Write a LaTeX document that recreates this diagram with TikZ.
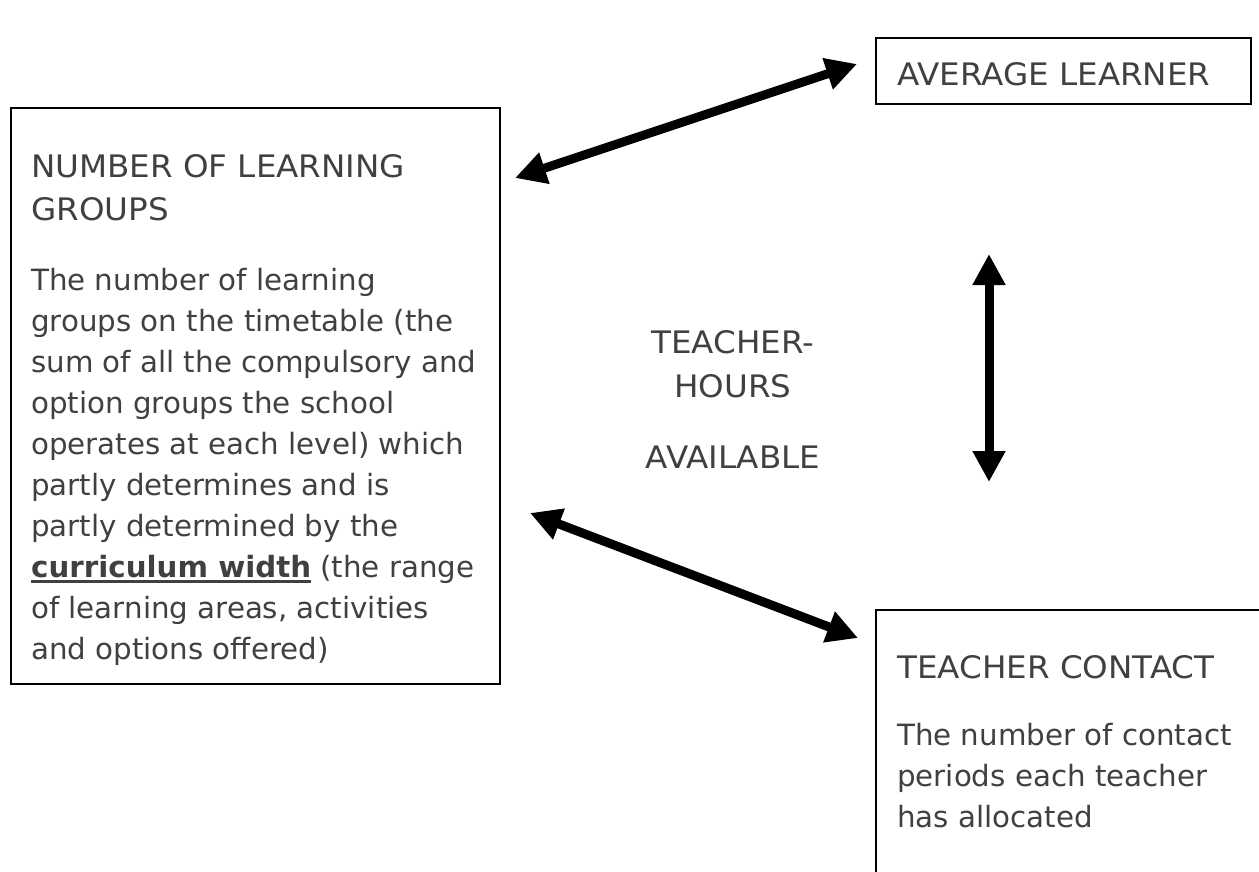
\documentclass[tikz,border=0pt]{standalone}
\usepackage{fontspec}
\setmainfont{DejaVu Sans}
\newfontfamily\capsfont{DejaVu Sans}[FakeStretch=1.05]
\usetikzlibrary{arrows.meta,positioning,calc}
\definecolor{ink}{RGB}{64,64,64}
% fixes the height of a first line, so text can be placed by its baseline
\newcommand{\firstline}{\rule{0pt}{30pt}}
% capital headings are set a little larger and wider
\newcommand{\hd}[1]{{\capsfont\fontsize{31}{41}\selectfont #1}}
% bold words with a heavy rule under them
\newcommand{\thickul}[1]{\setbox0\hbox{#1}\rlap{\rule[-6pt]{\wd0}{3.5pt}}\box0\relax}

\begin{document}
\begin{tikzpicture}[x=1pt, y=-1pt,
    every node/.style={text=ink, font=\fontsize{29.3}{41}\selectfont},
    box/.style={draw=black, line width=2pt, inner sep=0pt, anchor=north west},
    txt/.style={align=left, inner sep=0pt},
    link/.style={line width=9pt, {Triangle[length=31pt,width=31pt]}-{Triangle[length=31pt,width=31pt]}}]
    \useasboundingbox (0,0) rectangle (1259,872);
    \clip (0,0) rectangle (1259,872);

    % the three boxes
    \node[box, minimum width=489pt, minimum height=576pt] (groups) at (10,107) {};
    \node[box, minimum width=375pt, minimum height=66pt] (avg) at (875,37) {};
    \node[box, minimum width=420pt, minimum height=320pt] (contact) at (875,609) {};

    % their texts
    \node[txt, below right=40pt and 21pt of groups.north west] (groupstxt)
        {\firstline\hd{NUMBER OF LEARNING}\\[2pt]\hd{GROUPS}\\[29pt]
         The number of learning\\
         groups on the timetable (the\\
         sum of all the compulsory and\\
         option groups the school\\
         operates at each level) which\\
         partly determines and is\\
         partly determined by the\\
         \thickul{\textbf{curriculum width}} (the range\\
         of learning areas, activities\\
         and options offered)};
    \node[txt, below right=18pt and 22pt of avg.north west] (avgtxt)
        {\firstline\hd{AVERAGE LEARNER}};
    \node[txt, below right=39pt and 22pt of contact.north west] (contacttxt)
        {\firstline\hd{TEACHER CONTACT}\\[26pt]
         The number of contact\\
         periods each teacher\\
         has allocated};
    \node[txt, align=center, anchor=north] (hours) at (733,323)
        {\firstline\hd{TEACHER-}\\[3pt]\hd{HOURS}\\[30pt]\hd{AVAILABLE}};

    % arrow ends
    \coordinate (g1) at ($(groups.north east)+(14,71)$);
    \coordinate (a1) at ($(avg.north west)+(-18,27)$);
    \coordinate (a2) at ($(avg.south west)+(114,149)$);
    \coordinate (c2) at ($(contact.north west)+(114,-127)$);
    \coordinate (g3) at ($(groups.north east)+(29,406)$);
    \coordinate (c3) at ($(contact.north west)+(-17,29)$);

    \draw[link] (g1) -- (a1);
    \draw[link] (a2) -- (c2);
    \draw[link] (g3) -- (c3);
\end{tikzpicture}
\end{document}
